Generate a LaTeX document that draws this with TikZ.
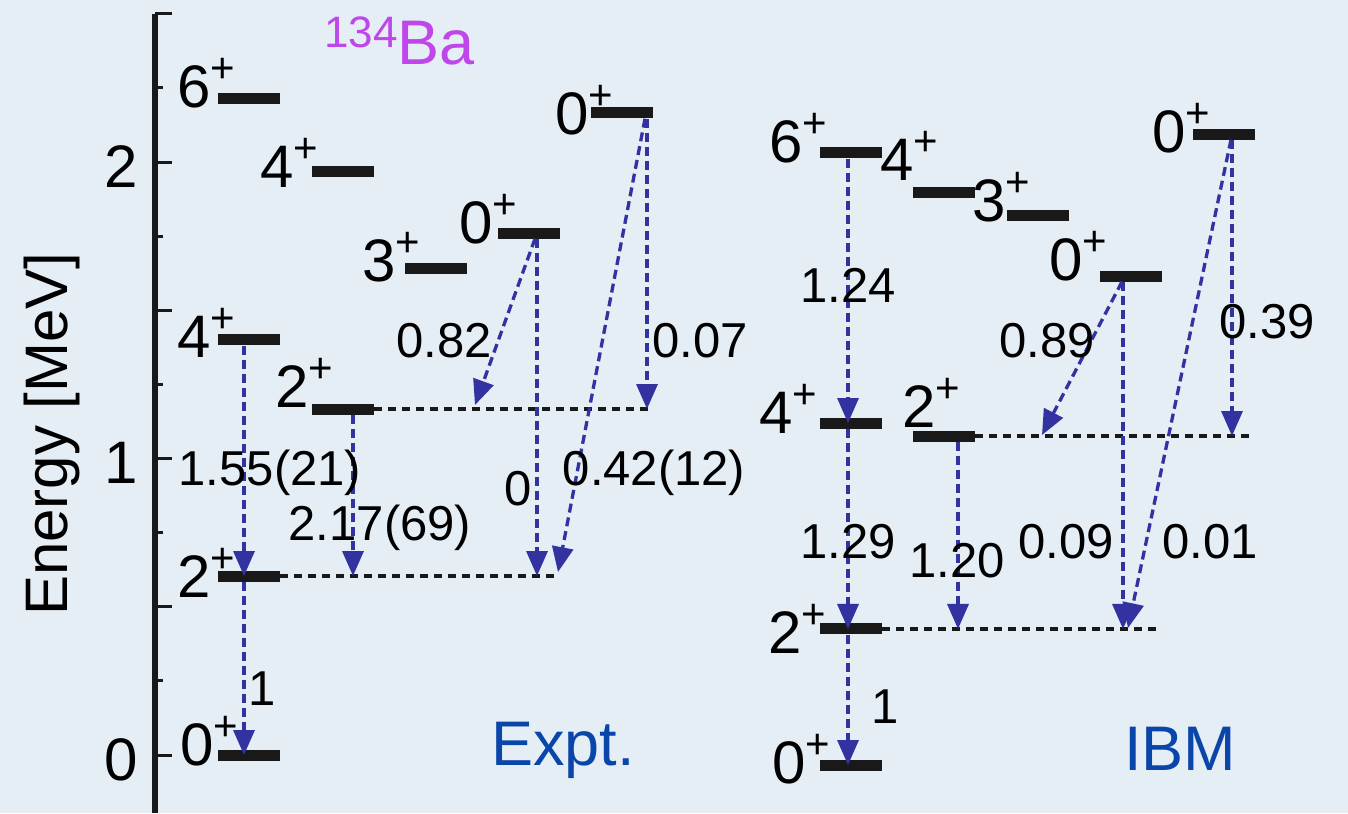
\documentclass[tikz,border=0pt]{standalone}
\usepackage{fontspec}
\setmainfont{Liberation Sans}
\usetikzlibrary{arrows.meta}

\definecolor{paper}{RGB}{229,237,245}
\definecolor{trblue}{RGB}{50,50,160}
\definecolor{tagblue}{RGB}{10,70,170}
\definecolor{nucpurple}{RGB}{190,70,235}

\newcommand{\spinp}[1]{#1\raisebox{25pt}{\fontsize{42}{42}\selectfont +}}

\tikzset{
  level/.style={fill=black!90, minimum width=62pt, minimum height=11pt, inner sep=0pt},
  spin/.style={anchor=base west, inner sep=0pt, font=\fontsize{60}{60}\selectfont},
  bval/.style={anchor=base, inner sep=0pt, font=\fontsize{49}{49}\selectfont},
  tag/.style={anchor=base, inner sep=0pt, text=tagblue, font=\fontsize{63}{63}\selectfont},
  trans/.style={trblue, line width=3.3pt, dash pattern=on 9pt off 5pt,
    -{Triangle[width=21pt,length=25pt]}},
  guide/.style={black!90, line width=3.5pt, dash pattern=on 8pt off 6pt},
  majtick/.style={black!90, line width=3pt},
}

\begin{document}
\begin{tikzpicture}[x=1pt, y=296.5pt]
\useasboundingbox (0,-0.1956) rectangle (1348,2.5464);
\fill[paper] (0,-0.1956) rectangle (1348,2.5464);

% energy axis
\draw[black!90, line width=6pt] (155,2.5) -- (155,-0.1956);
\foreach \v in {0,0.5,...,2.5}
  \draw[majtick] (155,\v) -- (172,\v);
\foreach \v in {0.25,0.75,...,2.25}
  \draw[majtick] (155,\v) -- (163,\v);
\foreach \v in {0,1,2}
  \node[anchor=base, inner sep=0pt, font=\fontsize{60}{60}\selectfont] (tk\v) at (121,\v-0.085) {\v};
\node[rotate=90, anchor=base, inner sep=0pt, font=\fontsize{60}{60}\selectfont] (elab) at (67,1.0826) {Energy [MeV]};
\node[anchor=base west, inner sep=0pt, text=nucpurple, font=\fontsize{63}{63}\selectfont] (nuc) at (324,2.3272)
  {\raisebox{17pt}{\fontsize{44}{44}\selectfont 134}Ba};

% experiment
\node[level] (ex0) at (249,0) {};
\node[level] (ex2) at (249,0.6037) {};
\node[level] (ex4) at (249,1.3997) {};
\node[level] (ex6) at (249,2.2125) {};
\node[level] (ex2b) at (343,1.1669) {};
\node[level] (ex4b) at (343,1.9696) {};
\node[level] (ex3b) at (436,1.6425) {};
\node[level] (ex0b) at (529,1.7605) {};
\node[level] (ex0c) at (622,2.1653) {};
\coordinate (ex2end) at (560,0.6037);
\coordinate (ex2bend) at (653,1.1669);
\draw[guide] (ex2.east) -- (ex2end);
\draw[guide] (ex2b.east) -- (ex2bend);

\node[spin] (sx0) at (180,-0.0337) {\spinp{0}};
\node[spin] (sx2) at (177,0.5329) {\spinp{2}};
\node[spin] (sx4) at (177,1.3423) {\spinp{4}};
\node[spin] (sx6) at (177,2.1855) {\spinp{6}};
\node[spin] (sx2b) at (275,1.1737) {\spinp{2}};
\node[spin] (sx4b) at (260,1.9157) {\spinp{4}};
\node[spin] (sx3b) at (362,1.5953) {\spinp{3}};
\node[spin] (sx0b) at (459,1.7268) {\spinp{0}};
\node[spin] (sx0c) at (555,2.0911) {\spinp{0}};

\draw[trans] ([xshift=-5pt]ex2.south) -- ([xshift=-5pt]ex0.center);
\draw[trans] ([xshift=-5pt]ex4.south) -- ([xshift=-5pt]ex2.center);
\draw[trans] ([xshift=10pt]ex2b.south) -- ([xshift=10pt]ex2b.south |- ex2.center);
\coordinate (dx1) at (475,1.1804);
\coordinate (dx2) at (558,0.6172);
\draw[trans] ([xshift=6pt]ex0b.south) -- (dx1);
\draw[trans] ([xshift=8pt]ex0b.south) -- ([xshift=8pt]ex0b.south |- ex2.center);
\draw[trans] ([xshift=25pt]ex0c.south) -- ([xshift=25pt]ex0c.south |- ex2b.center);
\draw[trans] ([xshift=23pt]ex0c.south) -- (dx2);

\node[bval] (bx1) at (262,0.1686) {1};
\node[bval] (bx2) at (270,0.9106) {1.55(21)};
\node[bval] (bx3) at (380,0.7251) {2.17(69)};
\node[bval] (bx4) at (444,1.3423) {0.82};
\node[bval] (bx5) at (700,1.3423) {0.07};
\node[bval] (bx6) at (518,0.8432) {0};
\node[bval] (bx7) at (654,0.9106) {0.42(12)};
\node[tag] (expt) at (563,-0.0337) {Expt.};

% IBM
\node[level] (ib0) at (851,-0.0337) {};
\node[level] (ib2) at (851,0.4250) {};
\node[level] (ib4) at (851,1.1197) {};
\node[level] (ib6) at (851,2.0304) {};
\node[level] (ib2b) at (944,1.0759) {};
\node[level] (ib4b) at (944,1.8988) {};
\node[level] (ib3b) at (1037.5,1.8212) {};
\node[level] (ib0b) at (1131,1.6155) {};
\node[level] (ib0c) at (1224,2.0944) {};
\coordinate (ib2end) at (1162,0.4250);
\coordinate (ib2bend) at (1255,1.0759);
\draw[guide] (ib2.east) -- (ib2end);
\draw[guide] (ib2b.east) -- (ib2bend);

\node[spin] (si0) at (772,-0.0944) {\spinp{0}};
\node[spin] (si2) at (768,0.3440) {\spinp{2}};
\node[spin] (si4) at (759,1.0860) {\spinp{4}};
\node[spin] (si6) at (769,2.0000) {\spinp{6}};
\node[spin] (si2b) at (902,1.1029) {\spinp{2}};
\node[spin] (si4b) at (880,1.9393) {\spinp{4}};
\node[spin] (si3b) at (972,1.7977) {\spinp{3}};
\node[spin] (si0b) at (1049,1.6020) {\spinp{0}};
\node[spin] (si0c) at (1152,2.0304) {\spinp{0}};

\draw[trans] ([xshift=-3pt]ib6.south) -- ([xshift=-3pt]ib4.center);
\draw[trans] ([xshift=-3pt]ib4.south) -- ([xshift=-3pt]ib2.center);
\draw[trans] ([xshift=-3pt]ib2.south) -- ([xshift=-3pt]ib0.center);
\draw[trans] ([xshift=14pt]ib2b.south) -- ([xshift=14pt]ib2b.south |- ib2.center);
\coordinate (di1) at (1042,1.0793);
\coordinate (di2) at (1128,0.4283);
\draw[trans] ([xshift=-9pt]ib0b.south) -- (di1);
\draw[trans] ([xshift=-8pt]ib0b.south) -- ([xshift=-8pt]ib0b.south |- ib2.center);
\draw[trans] ([xshift=8pt]ib0c.south) -- ([xshift=8pt]ib0c.south |- ib2b.center);
\draw[trans] ([xshift=7pt]ib0c.south) -- (di2);

\node[bval] (bi1) at (885,0.1079) {1};
\node[bval] (bi2) at (848,0.6644) {1.29};
\node[bval] (bi3) at (848,1.5278) {1.24};
\node[bval] (bi4) at (957,0.6003) {1.20};
\node[bval] (bi5) at (1066,0.6644) {0.09};
\node[bval] (bi6) at (1210,0.6644) {0.01};
\node[bval] (bi7) at (1047,1.3423) {0.89};
\node[bval] (bi8) at (1267,1.4064) {0.39};
\node[tag] (ibm) at (1180,-0.0506) {IBM};
\end{tikzpicture}
\end{document}
